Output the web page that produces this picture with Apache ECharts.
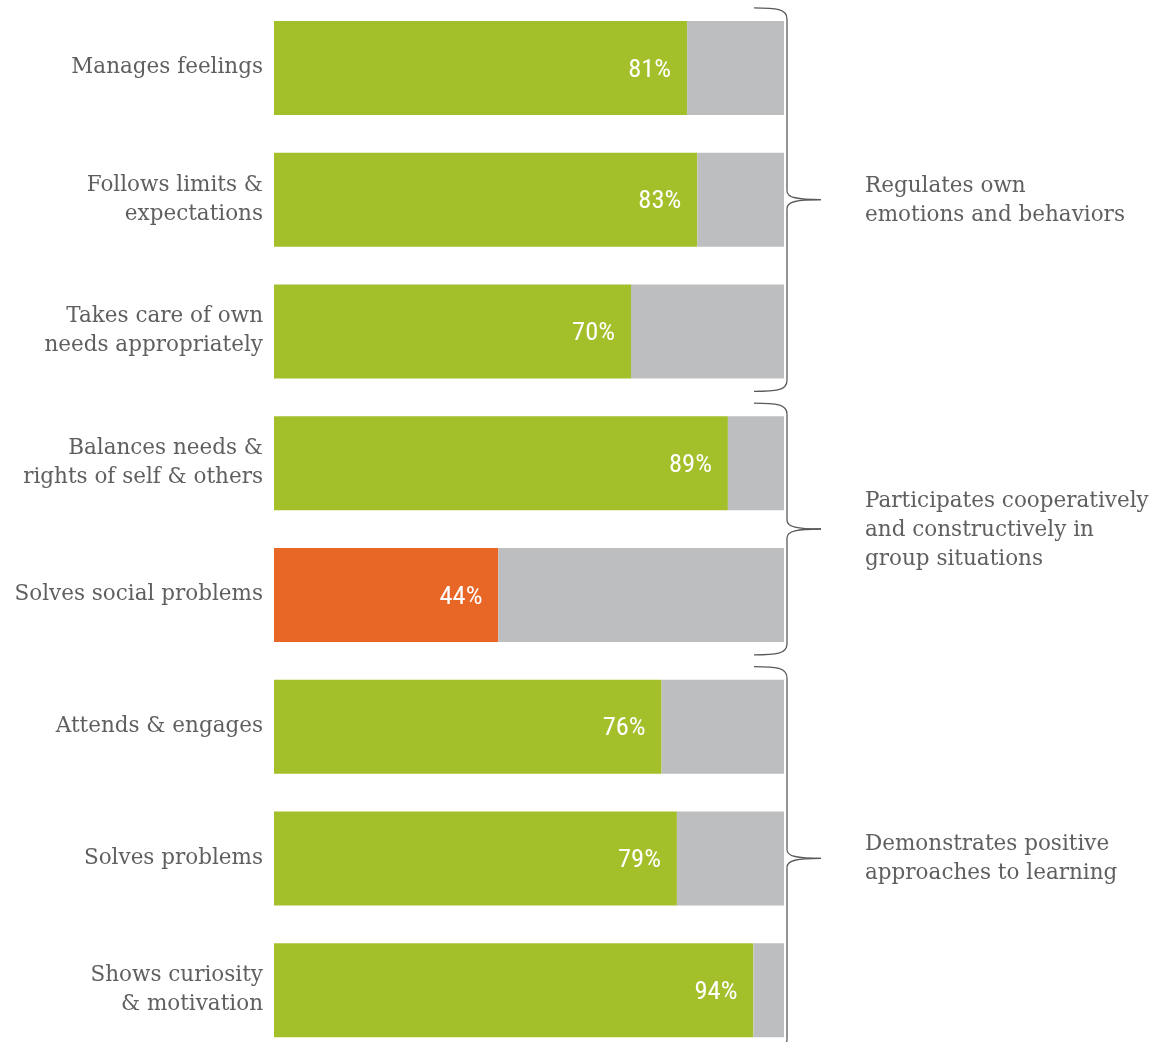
<!DOCTYPE html>
<html>
<head>
<meta charset="utf-8">
<script src="https://cdn.jsdelivr.net/npm/echarts@6/dist/echarts.min.js"></script>
<style>
  html, body { margin: 0; padding: 0; background: #ffffff; }
  #chart { width: 1166px; height: 1042px; }
</style>
</head>
<body>
<div id="chart"></div>
<script>
// Skills, top to bottom
const categories = [
  'Manages feelings',
  'Follows limits &\nexpectations',
  'Takes care of own\nneeds appropriately',
  'Balances needs &\nrights of self & others',
  'Solves social problems',
  'Attends & engages',
  'Solves problems',
  'Shows curiosity\n& motivation'
];

// Share of children meeting expectations (%)
const percentMeeting = [81, 83, 70, 89, 44, 76, 79, 94];

// Skills called out in orange
const flagged = ['Solves social problems'];

// Domain groupings (category index ranges)
const groupLabels = [
  'Regulates own\nemotions and behaviors',
  'Participates cooperatively\nand constructively in\ngroup situations',
  'Demonstrates positive\napproaches to learning'
];
const groupFirst = [0, 3, 5];
const groupLast = [2, 4, 7];

const GREEN = '#a3c02b';
const ORANGE = '#e96726';
const GREY = '#bdbec0';
const TEXT = '#5f5f5f';
const SERIF = "'DejaVu Serif', 'Liberation Serif', serif";

// Find a condensed sans face for the percentage labels
function pickCondensed() {
  const ctx = document.createElement('canvas').getContext('2d');
  const sample = '0123456789%';
  const target = 0.82;
  let best = { stretch: '', family: "'Roboto', sans-serif", score: Infinity };
  const families = ['Noto Sans', 'DejaVu Sans', 'Open Sans', 'Liberation Sans', 'Roboto', 'Inter', 'Lato'];
  const stretches = ['semi-condensed', 'condensed', 'extra-condensed'];
  for (const fam of families) {
    ctx.font = `40px '${fam}'`;
    const base = ctx.measureText(sample).width;
    for (const st of stretches) {
      ctx.font = '10px monospace';
      ctx.font = `${st} 40px '${fam}'`;
      if (ctx.font.indexOf('monospace') !== -1) continue;
      const r = ctx.measureText(sample).width / base;
      if (r < 0.95 && Math.abs(r - target) < best.score) {
        best = { stretch: st, family: `'${fam}', sans-serif`, score: Math.abs(r - target) };
      }
    }
  }
  return best;
}
const NARROW = pickCondensed();

const chart = echarts.init(document.getElementById('chart'), null, { renderer: 'canvas' });

const meetingData = percentMeeting.map((v, i) => ({
  value: v,
  itemStyle: { color: flagged.includes(categories[i]) ? ORANGE : GREEN }
}));
const remainderData = percentMeeting.map(v => 100 - v);

chart.setOption({
  animation: false,
  backgroundColor: '#ffffff',
  grid: {
    left: 274, width: 510, top: 2, height: 1054,
    containLabel: false, outerBoundsMode: 'none'
  },
  xAxis: { type: 'value', min: 0, max: 100, show: false },
  yAxis: {
    type: 'category',
    data: categories,
    inverse: true,
    axisLine: { show: false },
    axisTick: { show: false },
    axisLabel: {
      margin: 11,
      color: TEXT,
      fontFamily: SERIF,
      fontSize: 21.5,
      lineHeight: 29,
      align: 'right'
    }
  },
  series: [
    {
      type: 'bar',
      stack: 'total',
      barWidth: 94,
      data: meetingData,
      label: {
        show: true,
        position: 'insideRight',
        distance: 16,
        offset: [0, 2],
        formatter: '{c}%',
        color: '#ffffff',
        fontFamily: NARROW.family,
        fontWeight: NARROW.stretch || 'normal',
        fontSize: 26.5
      }
    },
    {
      type: 'bar',
      stack: 'total',
      barWidth: 94,
      data: remainderData,
      itemStyle: { color: GREY },
      silent: true
    }
  ]
});

// Curly braces and domain captions, positioned from the category axis
const gridRight = 274 + 510;
const vx = gridRight + 3;      // brace spine
const hx = gridRight - 30;     // brace ends
const tx = gridRight + 37;     // brace point
const braceStyle = { stroke: '#5a5a5a', lineWidth: 1.3, fill: null };
const elements = [];
const curve = (x1, y1, c1x, c1y, c2x, c2y, x2, y2) => ({
  type: 'bezierCurve',
  shape: { x1, y1, cpx1: c1x, cpy1: c1y, cpx2: c2x, cpy2: c2y, x2, y2 },
  style: braceStyle
});
const line = (x1, y1, x2, y2) => ({
  type: 'line', shape: { x1, y1, x2, y2 }, style: braceStyle
});
groupLabels.forEach((label, g) => {
  const yFirst = chart.convertToPixel({ yAxisIndex: 0 }, groupFirst[g]);
  const yLast = chart.convertToPixel({ yAxisIndex: 0 }, groupLast[g]);
  const top = yFirst - 60;
  const bottom = yLast + 60;
  const mid = (yFirst + yLast) / 2;
  elements.push(curve(hx, top, hx + 22, top, vx, top + 1, vx, top + 11));
  elements.push(line(vx, top + 11, vx, mid - 9));
  elements.push(curve(vx, mid - 9, vx, mid - 2, vx + 10, mid, tx, mid));
  elements.push(curve(tx, mid, vx + 10, mid, vx, mid + 2, vx, mid + 9));
  elements.push(line(vx, mid + 9, vx, bottom - 11));
  elements.push(curve(vx, bottom - 11, vx, bottom - 1, hx + 22, bottom, hx, bottom));
  elements.push({
    type: 'text',
    x: 865,
    y: mid + 1,
    style: {
      text: label,
      fill: TEXT,
      font: `21.5px ${SERIF}`,
      lineHeight: 29,
      align: 'left',
      verticalAlign: 'middle'
    }
  });
});
chart.setOption({ graphic: { elements } });
</script>
</body>
</html>
